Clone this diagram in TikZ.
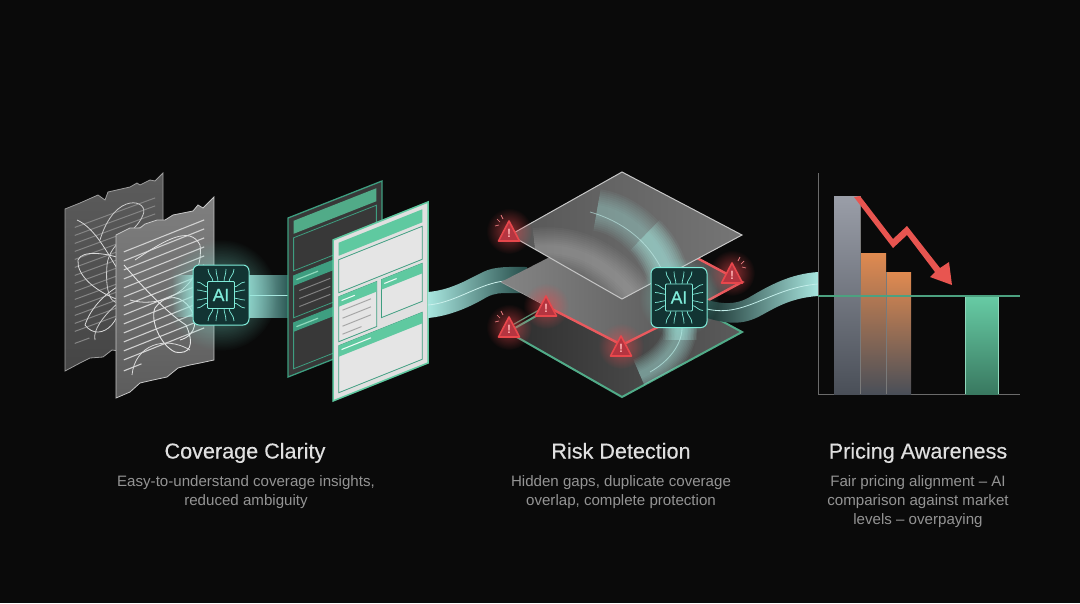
\documentclass[tikz,border=0pt]{standalone}
\usepackage{fontspec}
\setmainfont{Liberation Sans}
\newfontfamily\titlefont[FakeBold=0.35]{Liberation Sans}
\newfontfamily\chipfont[FakeBold=0.6]{Liberation Sans}
\usetikzlibrary{fadings,shadings,arrows.meta,calc}
\definecolor{bgc}{HTML}{0A0A0A}
\definecolor{mint}{HTML}{5FC9A0}
\definecolor{green2}{HTML}{3E9E80}
\definecolor{aqua}{HTML}{A8E6DF}
\definecolor{aquad}{HTML}{3F7F7A}
\definecolor{chipc}{HTML}{123433}
\definecolor{chipl}{HTML}{7FEBD9}
\definecolor{redw}{HTML}{E8474C}
\definecolor{redd}{HTML}{B53540}
\definecolor{arrowred}{HTML}{E85550}
\definecolor{orangeb}{HTML}{E08A50}
\definecolor{bargray}{HTML}{4A4F58}
\definecolor{bartop}{HTML}{9A9EA8}
\tikzfading[name=softglow,inner color=transparent!25,outer color=transparent!100]
\tikzfading[name=fadeR,left color=transparent!100,right color=transparent!0]
\tikzset{
 titletxt/.style={text=white!88!black,font=\titlefont\fontsize{21.6}{24}\selectfont,anchor=center,align=center,text height=16pt,text depth=5pt,inner sep=0pt},
 desctxt/.style={text=white!58!black,font=\fontsize{15.1}{19}\selectfont,anchor=center,align=center},
 chipbox/.style={draw=chipl,line width=1pt,fill=chipc,rounded corners=6pt},
 glow/.style={circle,fill=chipl,path fading=softglow,minimum size=#1,draw=none},
}
\newcommand{\para}[4]{(#1,#2)--(#3,#2)--(#3,#4)--(#1,#4)--cycle}
\newcommand{\aichip}[4]{%
 \node[glow=#4,opacity=.8] (#1g) at (#2,#3) {};
 \begin{scope}[shift={(#2,#3)}]
 \draw[chipbox] (-28,-30) rectangle (28,30);
 \foreach \s in {-1,1}{
  \foreach \a/\b in {-8/-13,-3/-5,3/5,8/13}{
   \draw[chipl,line width=.7pt] (\a,\s*13) .. controls (\a,\s*18) and (\b,\s*20) .. (\b,\s*26);
   \draw[chipl,line width=.7pt] (\s*13,\a) .. controls (\s*17,\a) and (\s*19,\b) .. (\s*24,\b);
  }
 }
 \node[draw=chipl,line width=.9pt,fill=chipc,minimum width=27pt,minimum height=27pt,inner sep=0pt,text=chipl,font=\chipfont\fontsize{17.5}{17}\selectfont,rounded corners=1pt] (#1) at (0,0) {AI};
 \end{scope}}
\newcommand{\warn}[3]{%
 \node[circle,fill=redw,path fading=softglow,minimum size=46pt,opacity=.8] at (#2,#3) {};
 \begin{scope}[shift={(#2,#3)}]
 \draw[redw,line width=1.6pt,fill=redd,line join=round] (0,-10)--(10.5,10)--(-10.5,10)--cycle;
 \node[inner sep=0pt,text=white!70!red,font=\bfseries\fontsize{12}{12}\selectfont] (#1) at (0,2.5) {!};
 \end{scope}}
\newcommand{\ticksL}[2]{\begin{scope}[shift={(#1,#2)}]
 \draw[redw!70!white,line width=.7pt] (-6,-12)--(-8,-16) (-9,-9)--(-12,-12) (-10,-6)--(-14,-5);
 \end{scope}}
\newcommand{\ticksR}[2]{\begin{scope}[shift={(#1,#2)}]
 \draw[redw!70!white,line width=.7pt] (6,-12)--(8,-16) (9,-9)--(12,-12) (10,-6)--(14,-5);
 \end{scope}}
\begin{document}
\begin{tikzpicture}[x=1pt,y=-1pt]
\useasboundingbox (0,0) rectangle (1080,603);
\fill[bgc] (0,0) rectangle (1080,603);

% ---- torn doc, back
\shade[top color=white!36!black,bottom color=white!27!black,draw=white!62!black,line width=.8pt]
 (65,209)--(80,203)--(98,195)--(105,200)--(108,192)--(130,187)--(137,183)--(140,185)--(150,180)--(155,181)--(163,173)
 --(163,340)--(140,345)--(126,352)--(112,350)--(103,357)--(90,358)--(80,363)--(65,371)--cycle;
\begin{scope}[shift={(65,209)},x={(.98pt,.36pt)},y={(0pt,-1pt)}]
 \foreach \v in {22,30,38,46,54,62,70,78,86,94,102,110,118,126}{
  \draw[white!52!black,line width=1pt] (10,\v)--(92,\v);}
 \draw[white!52!black,line width=1pt] (10,138)--(25,138);
\end{scope}
\draw[white!85!black,line width=.8pt]
 (77,220) .. controls (110,235) and (120,300) .. (150,290) .. controls (175,270) and (85,240) .. (78,260)
 .. controls (75,290) and (150,320) .. (160,295) .. controls (170,260) and (100,280) .. (85,325)
 .. controls (100,345) and (130,320) .. (118,280);
\draw[white!80!black,line width=.8pt]
 (100,240) .. controls (115,190) and (150,200) .. (143,215) .. controls (135,235) and (110,240) .. (107,265)
 .. controls (105,290) and (110,310) .. (125,300) .. controls (140,285) and (90,320) .. (95,340);

% ---- torn doc, front
\shade[top color=white!50!black,bottom color=white!36!black,draw=white!78!black,line width=.8pt]
 (116,235)--(130,228)--(140,228)--(145,224)--(157,220)--(165,220)--(173,215)--(193,211)--(198,205)--(203,208)--(214,197)
 --(214,360)--(200,363)--(190,365)--(178,368)--(167,377)--(153,380)--(140,383)--(130,392)--(116,398)--cycle;
\begin{scope}[shift={(116,235)},x={(.98pt,.39pt)},y={(0pt,-1pt)}]
 \foreach \v in {20,29,38,47,56,65,74,83,92,101,110,119,128}{
  \draw[white!82!black,line width=1.1pt] (8,\v)--(90,\v);}
 \draw[white!82!black,line width=1.1pt] (8,139)--(26,139);
\end{scope}
\draw[white!90!black,line width=.9pt]
 (124,265) .. controls (145,290) and (170,315) .. (186,325) .. controls (195,345) and (190,355) .. (175,352)
 .. controls (160,345) and (150,320) .. (155,308) .. controls (180,275) and (215,330) .. (180,340);
\draw[white!88!black,line width=.8pt]
 (130,300) .. controls (165,310) and (205,285) .. (200,245) .. controls (190,225) and (165,240) .. (135,260);
\draw[white!85!black,line width=.8pt]
 (132,375) .. controls (135,345) and (165,335) .. (190,350);

% ---- aqua fade into the front doc
\fill[aqua,path fading=fadeR,opacity=.8] (172,275) rectangle (194,317);

% ---- band 1 (chip to docs)
\shade[left color=aqua!85!black,right color=aquad!70!black] (249,275) rectangle (288,317);
\draw[aqua,line width=.8pt] (249,295)--(288,295);

% ---- clean doc, back
\begin{scope}[shift={(288,218)},x={(.94pt,.37pt)},y={(0pt,-1pt)}]
 \path[fill=white!22!black,draw=green2,line width=1.3pt] (0,0)--(100,0)--(100,159)--(0,159)--cycle;
 \fill[mint!85!black] \para{6}{5}{94}{18};
 \draw[green2,line width=.8pt] \para{6}{22}{94}{55};
 \fill[green2] \para{6}{60}{94}{70};
 \draw[green2,line width=.8pt] \para{6}{60}{94}{102};
 \foreach \v in {77,85,93}{\draw[white!50!black,line width=1pt] (12,\v)--(45,\v);}
 \draw[mint!70!white,line width=1.2pt] (9,65)--(32,65);
 \fill[green2] \para{6}{107}{94}{116};
 \draw[green2,line width=.8pt] \para{6}{107}{94}{153};
 \draw[mint!70!white,line width=1.2pt] (9,112)--(32,112);
\end{scope}

% ---- clean doc, front
\begin{scope}[shift={(333,240)},x={(.95pt,.38pt)},y={(0pt,-1pt)}]
 \path[fill=white!88!black,draw=mint,line width=1.5pt] (0,0)--(100,0)--(100,161)--(0,161)--cycle;
 \fill[mint] \para{6}{5}{94}{18};
 \draw[green2,line width=.8pt,fill=white!90!black] \para{6}{22}{94}{55};
 \draw[green2,line width=.8pt,fill=white!90!black] \para{6}{59}{46}{104};
 \fill[mint] \para{6}{59}{46}{69};
 \draw[green2,line width=.8pt,fill=white!90!black] \para{51}{59}{94}{97};
 \fill[mint] \para{51}{59}{94}{69};
 \draw[white!90!mint,line width=1.1pt] (9,64)--(23,64);
 \draw[white!90!mint,line width=1.1pt] (54,64)--(67,64);
 \foreach \v/\e in {74/40,82/40,90/40,98/30}{\draw[white!65!black,line width=1pt] (10,\v)--(\e,\v);}
 \draw[green2,line width=.8pt,fill=white!90!black] \para{6}{108}{94}{155};
 \fill[mint] \para{6}{108}{94}{119};
 \draw[white!90!mint,line width=1.1pt] (9,113)--(40,113);
\end{scope}

% ---- ribbon 2 (docs to plates)
\shade[left color=aqua,right color=aquad!60!black]
 (428,292) .. controls (450,290) and (465,281) .. (483,272) .. controls (495,266) and (510,267) .. (527,267) -- (527,293) -- (513,293) .. controls (500,293) and (495,293) .. (487,297) .. controls (470,307) and (450,316) .. (428,318) -- cycle;
\draw[aqua!60!white,line width=.8pt] (428,305) .. controls (455,303) and (480,283) .. (505,281)--(527,280);

% ---- bottom plate
\shade[left color=white!18!black,right color=white!36!black,draw=mint!85!black,line width=2pt,line join=miter]
 (622,397)--(742,332)--(622,267)--(508,332)--cycle;
\begin{scope}
 \clip (622,397)--(742,332)--(622,267)--(508,332)--cycle;
 \foreach \w in {34,31,28,25,22,19,16,13,10,7}{
  \draw[aqua,opacity=.07,line width=\w pt,line cap=butt] (680,322) .. controls (682,345) and (665,365) .. (640,375);
  \draw[aqua,opacity=.07,line width=\w pt,line cap=butt] (680,322) -- (680,340);
 }
 \draw[aqua!80!white,line width=.8pt,opacity=.7] (682,328) .. controls (682,345) and (668,362) .. (650,372);
\end{scope}

% ---- middle plate with red edges
\shade[left color=white!52!black,right color=white!30!black] (501,282)--(622,220)--(742,282)--(622,345)--cycle;
\draw[white!60!black,line width=.8pt] (501,282)--(546,306);
\draw[redw!90!white,line width=2.4pt] (546,306)--(622,345)--(660,326);
\draw[redw!90!white,line width=2.4pt] (697,258)--(742,282)--(705,302);
\draw[mint!80!black,line width=1.2pt] (509,327)--(546,306);

% ---- top plate
\shade[left color=white!34!black,right color=white!46!black] (622,172)--(742,235)--(622,299)--(510,235)--cycle;
\begin{scope}
 \clip (622,172)--(742,235)--(622,299)--(510,235)--cycle;
 \foreach \w in {44,40,36,32,28,24,20,16,12,8}{
  \draw[white,opacity=.03,line width=\w pt,line cap=butt] (535,250) .. controls (575,245) and (610,265) .. (635,298);
 }
 \foreach \w in {42,38,34,30,26,22,18,14,10}{
  \draw[aqua,opacity=.06,line width=\w pt,line cap=butt] (597,210) .. controls (630,215) and (660,245) .. (670,285);
  \draw[aqua,opacity=.07,line width=\w pt,line cap=butt] (645,235) .. controls (658,247) and (667,265) .. (670,285);
 }
 \draw[aqua!70!white,line width=.8pt,opacity=.6] (590,212) .. controls (625,222) and (655,245) .. (668,285);
\end{scope}
\draw[white!78!black,line width=1pt] (622,172)--(742,235)--(622,299)--(510,235)--cycle;

% ---- ribbon 3
\shade[left color=aquad!40!black,right color=aqua]
 (707,300) .. controls (722,304) and (735,305) .. (748,298) .. controls (770,285) and (790,274) .. (818,272) -- (818,296) .. controls (790,298) and (775,308) .. (760,316) .. controls (745,324) and (730,325) .. (707,318) -- cycle;
\draw[aqua!70!white,line width=.8pt] (707,309) .. controls (745,318) and (770,288) .. (818,284);

% ---- chart
\draw[white!42!black,line width=1.2pt] (818.5,173)--(818.5,394.5)--(1020,394.5);
\shade[top color=bartop,bottom color=bargray] (834,196) rectangle (860,394);
\shade[top color=orangeb,bottom color=bargray] (860,253) rectangle (886,394);
\shade[top color=orangeb,bottom color=bargray] (886,272) rectangle (911,394);
\draw[white!48!black,line width=.5pt] (860,196)--(860,394) (886,272)--(886,394);
\shade[top color=mint!95!white,bottom color=mint!60!black] (965.5,296) rectangle (998.5,394);
\draw[mint!70!white,line width=1.4pt] (965.5,394)--(965.5,296)--(998.5,296)--(998.5,394);
\draw[mint!80!black,line width=2pt] (818,296)--(1019.5,296);
\path[fill=arrowred,draw=none]
 (854,197)--(860,196)--(893,239)--(907,226)--(940,268)--(949,262)--(952,285)--(930,277)--(935,272)--(907,235)--(893,248)--cycle;

% ---- chips
\aichip{chipa}{221}{295}{112pt}
\aichip{chipb}{679}{297.5}{80pt}

% ---- warnings
\warn{wa}{509}{231}\ticksL{509}{231}
\warn{wb}{546}{306}
\warn{wc}{509}{327}\ticksL{509}{327}
\warn{wd}{621}{346}
\warn{we}{732}{273}\ticksR{732}{273}

% ---- text
\node[titletxt] (t1) at (245,453) {Coverage Clarity};
\node[desctxt] (d1) at (246,492) {Easy-to-understand coverage insights,\\reduced ambiguity};
\node[titletxt] (t2) at (621,453) {Risk Detection};
\node[desctxt] (d2) at (621,492) {Hidden gaps, duplicate coverage\\overlap, complete protection};
\node[titletxt] (t3) at (918,453) {Pricing Awareness};
\node[desctxt] (d3) at (918,501.5) {Fair pricing alignment – AI\\comparison against market\\levels – overpaying};
\end{tikzpicture}
\end{document}
